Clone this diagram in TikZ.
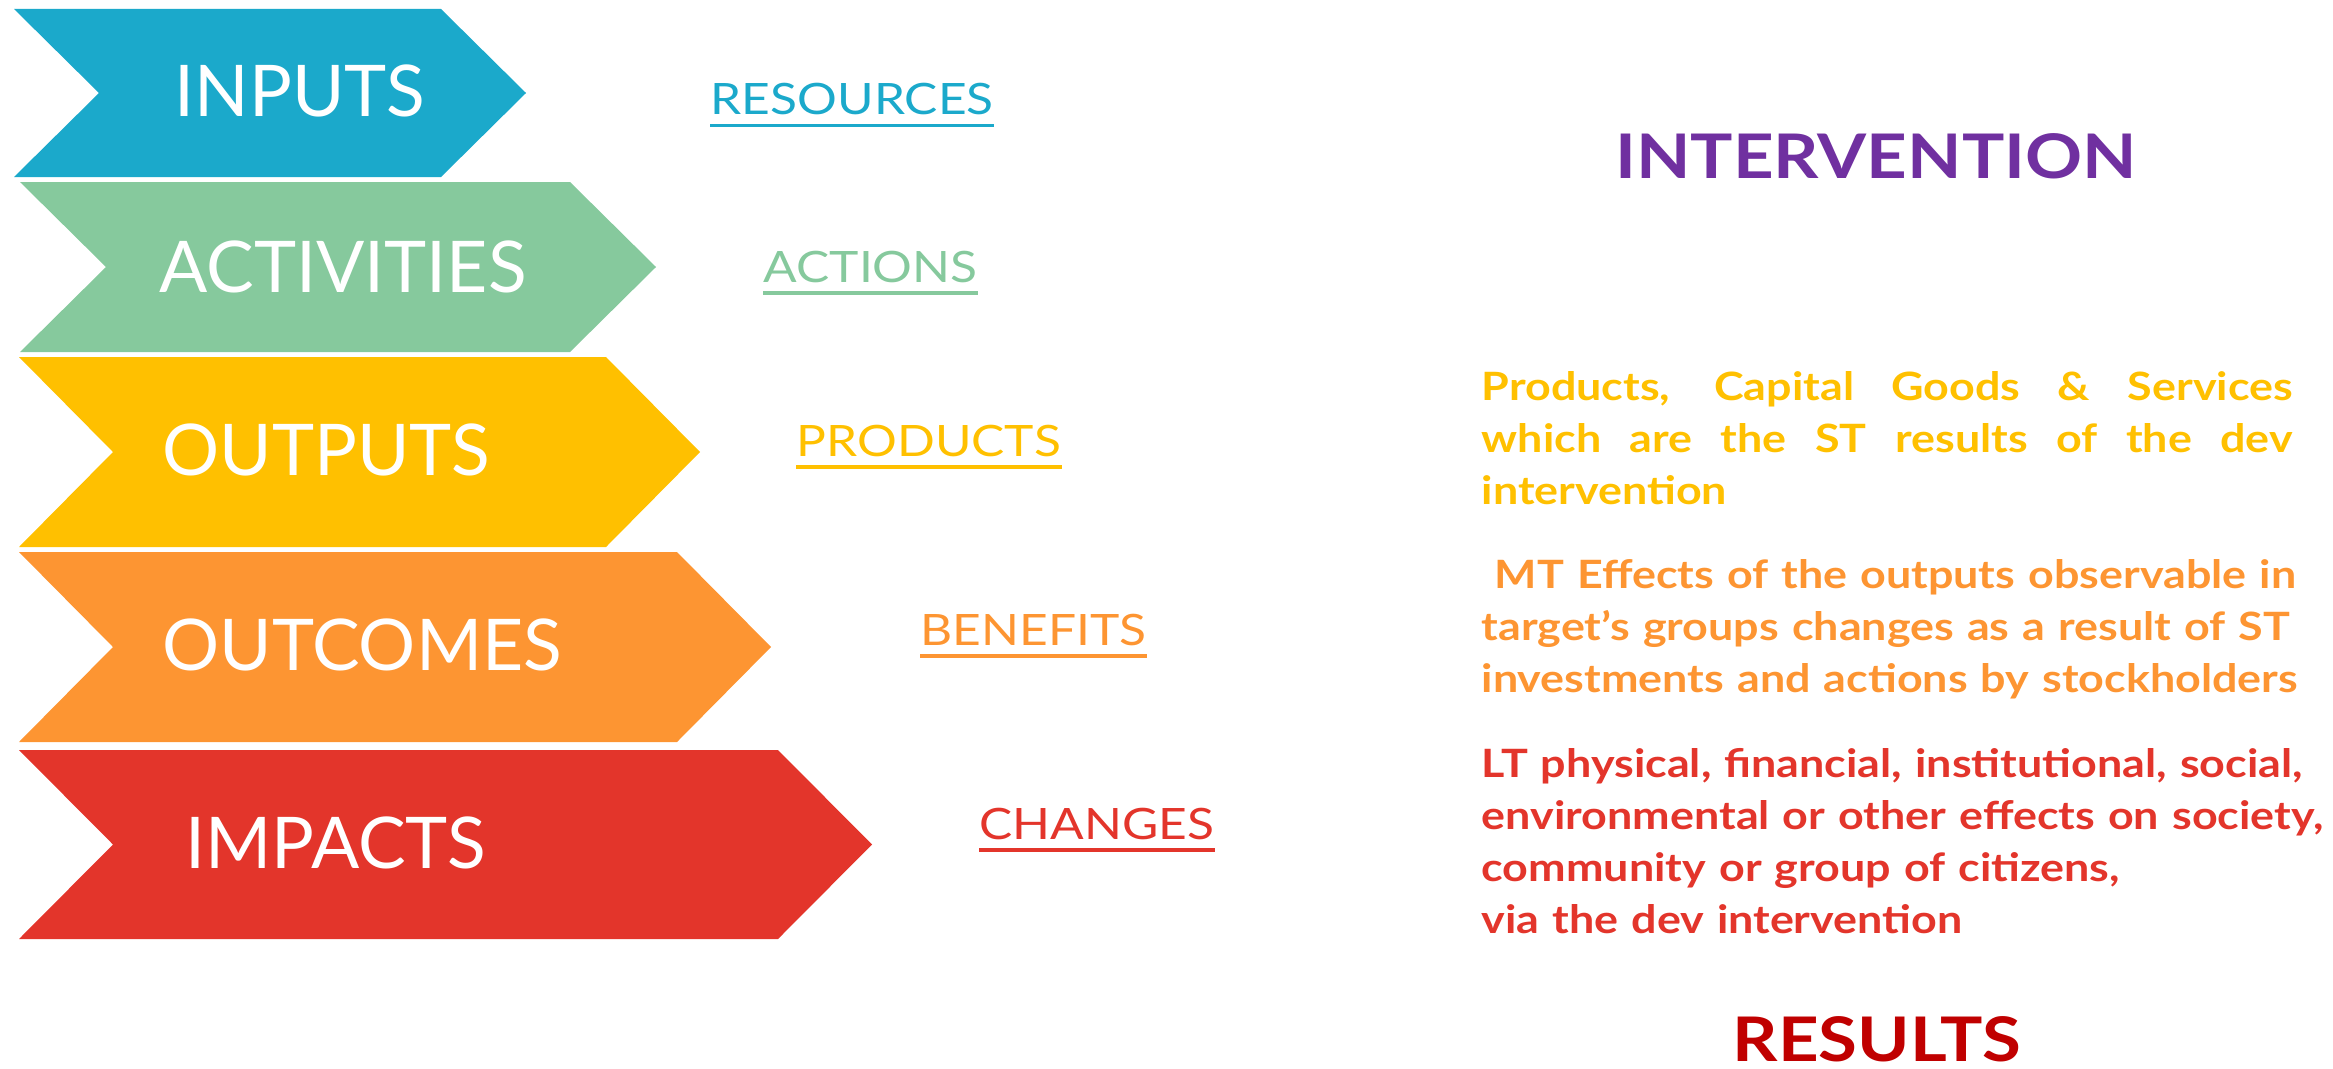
\documentclass[tikz,border=0pt]{standalone}
\usepackage{fontspec}
\setmainfont{Lato}
\newfontfamily\wideFont[FakeStretch=1.15]{Lato}
\usetikzlibrary{positioning}
\definecolor{inputBlue}{HTML}{1BA9CB}
\definecolor{activityGreen}{HTML}{86C99D}
\definecolor{outputYellow}{HTML}{FFC000}
\definecolor{outcomeOrange}{HTML}{FD9532}
\definecolor{impactRed}{HTML}{E3352B}
\definecolor{interventionPurple}{HTML}{7030A0}
\definecolor{resultRed}{HTML}{C00000}
\newcommand{\chevron}[6]{%%
  %% #1 colour, #2 top, #3 bottom, #4 left edge, #5 right edge, #6 depth of notch and tip
  \fill[#1] (#4,-#2) -- (#5,-#2) -- ({#5+#6},{-(#2+#3)/2}) -- (#5,-#3)
    -- (#4,-#3) -- ({#4+#6},{-(#2+#3)/2}) -- cycle;
}
\newcommand{\stepLabel}[5]{%%
  %% #1 name, #2 colour, #3 left, #4 baseline, #5 text
  \node[labelStyle,#2] (#1) at (#3,-#4) {#5};
  \draw[#2,underStyle] ([yshift=-0.11cm]#1.base west) -- ([yshift=-0.11cm]#1.base east);
}

\begin{document}
\begin{tikzpicture}[%%
  stepStyle/.style={anchor=base west,inner sep=0pt,white,font=\fontsize{20.3}{24}\selectfont},%%
  labelStyle/.style={anchor=base west,inner sep=0pt,font=\wideFont\fontsize{12.3}{15}\selectfont},%%
  underStyle/.style={line width=0.9pt},%%
  titleStyle/.style={anchor=base,inner sep=0pt,font=\wideFont\fontsize{17.5}{20}\bfseries\selectfont},%%
  textStyle/.style={anchor=base west,inner sep=0pt,text width=9cm,align=left,%%
    font=\wideFont\fontsize{11.1}{14.8}\bfseries\selectfont}
]
\useasboundingbox (0,0) rectangle (23.33,-10.68);
%%
%%
%% The five chevrons.
\chevron{inputBlue}{0.09}{1.77}{0.14}{4.41}{0.85}
\chevron{activityGreen}{1.82}{3.52}{0.20}{5.70}{0.86}
\chevron{outputYellow}{3.57}{5.47}{0.19}{6.06}{0.94}
\chevron{outcomeOrange}{5.52}{7.42}{0.19}{6.77}{0.94}
\chevron{impactRed}{7.50}{9.39}{0.19}{7.78}{0.94}
\node[stepStyle] (inputs) at (1.74,-1.16) {INPUTS};
\node[stepStyle] (activities) at (1.59,-2.92) {ACTIVITIES};
\node[stepStyle] (outputs) at (1.62,-4.75) {OUTPUTS};
\node[stepStyle] (outcomes) at (1.62,-6.70) {OUTCOMES};
\node[stepStyle] (impacts) at (1.85,-8.68) {IMPACTS};
%%
%%
%% What each step stands for.
\stepLabel{resources}{inputBlue}{7.10}{1.145}{RESOURCES}
\stepLabel{actions}{activityGreen}{7.63}{2.82}{ACTIONS}
\stepLabel{products}{outputYellow}{7.96}{4.56}{PRODUCTS}
\stepLabel{benefits}{outcomeOrange}{9.20}{6.45}{BENEFITS}
\stepLabel{changes}{impactRed}{9.79}{8.39}{CHANGES}
%%
%%
%% Headings and the descriptions on the right.
\node[titleStyle,interventionPurple] (intervention) at (18.76,-1.78) {INTERVENTION};
\node[titleStyle,resultRed] (results) at (18.77,-10.61) {RESULTS};
\node[textStyle,outputYellow,text width=8.11cm,align=justify] (outputText) at (14.81,-4.00)
  {Products, Capital Goods \& Services\linebreak which are the ST results of the dev\linebreak intervention};
\node[textStyle,outcomeOrange] (outcomeText) at (14.81,-5.88)
  {\ MT Effects of the outputs observable in\\target’s groups changes as a result of ST\\investments and actions by stockholders};
\node[textStyle,impactRed] (impactText) at (14.81,-7.77)
  {LT physical, financial, institutional, social,\\environmental or other effects on society,\\community or group of citizens,\\via the dev intervention};
\end{tikzpicture}
\end{document}
